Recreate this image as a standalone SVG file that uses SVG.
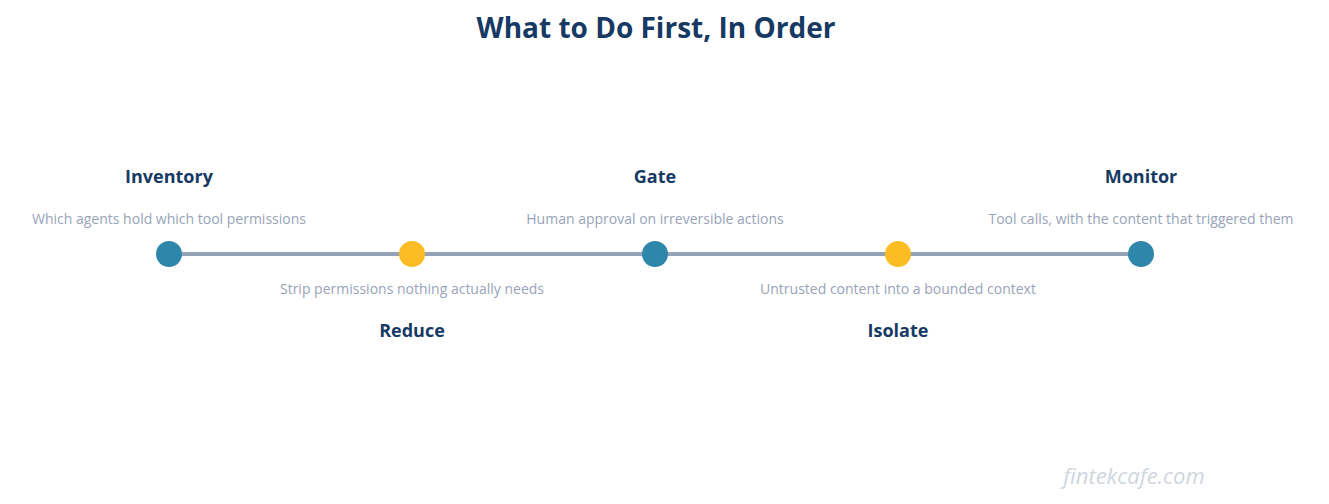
<svg xmlns="http://www.w3.org/2000/svg" width="1329" height="504" viewBox="0 0 1329 504">
<style>
.t{font-family:"Open Sans","Liberation Sans",sans-serif;font-weight:bold;font-size:28px;fill:#163a63;text-anchor:middle}
.l{font-family:"Open Sans","Liberation Sans",sans-serif;font-weight:bold;font-size:18px;fill:#163a63;text-anchor:middle}
.d{font-family:"Open Sans","Liberation Sans",sans-serif;font-size:14px;fill:#98a3b8;text-anchor:middle}
.b{fill:#2e86ab}.y{fill:#fbbd23}
.w{font-family:"Open Sans","Liberation Sans",sans-serif;font-style:italic;font-size:22px;fill:#cfd6e0;text-anchor:middle}
</style>
<rect width="1329" height="504" fill="#fff"/>
<text class="t" x="656" y="38">What to Do First, In Order</text>
<g id="connectors"><line x1="169" y1="254" x2="1141" y2="254" stroke="#94a3b8" stroke-width="4"/></g>
<g id="inventory"><circle class="b" cx="169" cy="254" r="13"/><text class="l" x="169" y="183">Inventory</text><text class="d" x="169" y="224">Which agents hold which tool permissions</text></g>
<g id="reduce"><circle class="y" cx="412" cy="254" r="13"/><text class="d" x="412" y="294">Strip permissions nothing actually needs</text><text class="l" x="412" y="337">Reduce</text></g>
<g id="gate"><circle class="b" cx="655" cy="254" r="13"/><text class="l" x="655" y="183">Gate</text><text class="d" x="655" y="224">Human approval on irreversible actions</text></g>
<g id="isolate"><circle class="y" cx="898" cy="254" r="13"/><text class="d" x="898" y="294">Untrusted content into a bounded context</text><text class="l" x="898" y="337">Isolate</text></g>
<g id="monitor"><circle class="b" cx="1141" cy="254" r="13"/><text class="l" x="1141" y="183">Monitor</text><text class="d" x="1141" y="224">Tool calls, with the content that triggered them</text></g>
<text class="w" x="1134" y="484">fintekcafe.com</text>
</svg>
